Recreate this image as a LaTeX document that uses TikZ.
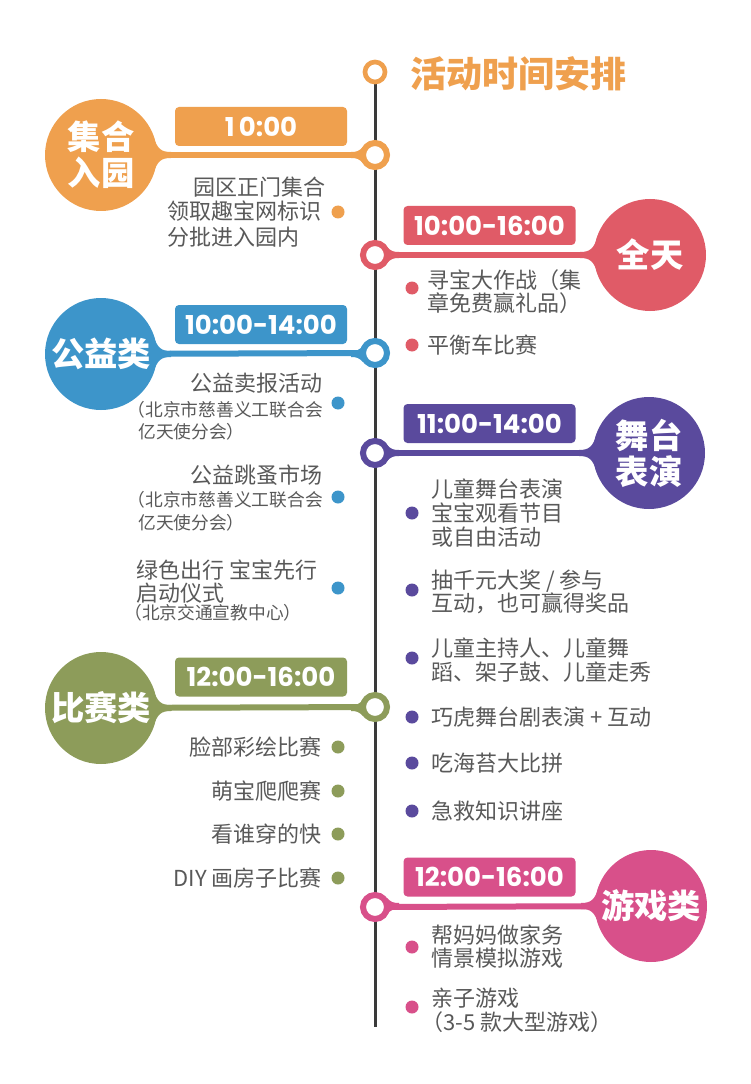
\documentclass[tikz,border=0pt]{standalone}
\usepackage{fontspec}
\setmainfont{Noto Sans CJK SC}
\newfontfamily\timefont{Poppins}
\newfontfamily\blackfont{Noto Sans CJK SC}[UprightFont=* Black]
\usetikzlibrary{backgrounds}
\definecolor{cOra}{HTML}{EFA04E}
\definecolor{cRed}{HTML}{E05B67}
\definecolor{cBlu}{HTML}{3D95CA}
\definecolor{cPur}{HTML}{5A4A9D}
\definecolor{cGrn}{HTML}{8D9C5A}
\definecolor{cPnk}{HTML}{D8508A}
\definecolor{txt}{HTML}{595959}
\definecolor{axis}{HTML}{3A3A3A}
\tikzset{
  bigc/.style={circle, fill=#1, minimum size=84pt, inner sep=0pt, text=white,
    font=\blackfont\fontsize{25}{27}\selectfont, align=center},
  ringn/.style={circle, draw=#1, fill=white, line width=4.5pt, minimum size=18pt, inner sep=0pt},
  tbox/.style={rectangle, rounded corners=3pt, fill=#1, minimum width=129pt, minimum height=29.25pt,
    inner sep=0pt, text=white, font=\timefont\fontsize{19.5}{22}\selectfont\bfseries},
  dotn/.style={circle, fill=#1, minimum size=9.75pt, inner sep=0pt},
  itm/.style={inner sep=0pt, text=txt, font=\fontsize{16.5}{18}\selectfont},
  sml/.style={inner sep=0pt, text=txt, font=\fontsize{13.3}{15}\selectfont},
  conn/.style={draw=#1, line width=4.5pt},
}
\newcommand{\mkfillet}[4]{%
  \fill[#1, shift={(#2,#3)}, xscale=#4] (70,-3) .. controls (60,-3) and (56,-6) .. (52,-20) -- (52,20) .. controls (56,6) and (60,3) .. (70,3) -- cycle;
  \fill[#1, shift={(375,#3)}, xscale=#4] (-24,-3) .. controls (-18,-3) and (-16,-4) .. (-12,-8) -- (-12,8) .. controls (-16,4) and (-18,3) .. (-24,3) -- cycle;
}
\begin{document}
\begin{tikzpicture}[x=0.75pt, y=-0.75pt]
\useasboundingbox (0,0) rectangle (750,1084);

% title
\node[circle, draw=cOra, fill=white, line width=3.5pt, minimum size=15pt, inner sep=0pt] (r0) at (375,72) {};
\node[anchor=base west, inner sep=0pt, text=cOra, font=\blackfont\fontsize{27}{30}\selectfont] (title) at (410,88) {活动时间安排};
\coordinate (bot) at (375,1027);

% ---------- section 1: 集合入园
\node[bigc=cOra] (c1) at (101,155) {集合\\入园};
\node[ringn=cOra] (r1) at (375,155) {};
\node[tbox=cOra] (b1) at (261,126.5) {1\,0:00};
\node[itm, anchor=base east] (t1a) at (326,196) {园区正门集合};
\node[itm, anchor=base west] (t1b) at (167,220) {领取趣宝网标识};
\node[itm, anchor=base west] (t1c) at (167,245) {分批进入园内};
\node[dotn=cOra] (d1) at (338,212) {};

% ---------- section 2: 全天
\node[bigc=cRed] (c2) at (650,255) {全天};
\node[ringn=cRed] (r2) at (375,255) {};
\node[tbox=cRed] (b2) at (489.5,225.5) {10:00-16:00};
\node[itm, anchor=base west] (t2a) at (427,288) {寻宝大作战（集};
\node[itm, anchor=base west] (t2b) at (427,311) {章免费赢礼品）};
\node[dotn=cRed] (d2a) at (412,288) {};
\node[itm, anchor=base west] (t2c) at (427,353) {平衡车比赛};
\node[dotn=cRed] (d2b) at (412,345) {};

% ---------- section 3: 公益类
\node[bigc=cBlu] (c3) at (101,354) {公益类};
\node[ringn=cBlu] (r3) at (375,353) {};
\node[tbox=cBlu] (b3) at (261,324.5) {10:00-14:00};
\node[itm, anchor=base east] (t3a) at (323,391) {公益卖报活动};
\node[sml, anchor=base east] (t3b) at (323,416) {（北京市慈善义工联合会};
\node[sml, anchor=base west] (t3c) at (138,438) {亿天使分会）};
\node[dotn=cBlu] (d3a) at (338,403) {};
\node[itm, anchor=base east] (t3d) at (323,483) {公益跳蚤市场};
\node[sml, anchor=base east] (t3e) at (323,506) {（北京市慈善义工联合会};
\node[sml, anchor=base west] (t3f) at (138,529) {亿天使分会）};
\node[dotn=cBlu] (d3b) at (338,497) {};
\node[itm, anchor=base west] (t3g) at (136,578) {绿色出行 宝宝先行};
\node[itm, anchor=base west] (t3h) at (136,601) {启动仪式};
\node[sml, anchor=base west] (t3i) at (124,619) {（北京交通宣教中心）};
\node[dotn=cBlu] (d3c) at (338,588) {};

% ---------- section 4: 舞台表演
\node[bigc=cPur] (c4) at (649,453) {舞台\\表演};
\node[ringn=cPur] (r4) at (375,453) {};
\node[tbox=cPur] (b4) at (489.5,423.5) {11:00-14:00};
\node[itm, anchor=base west] (t4a) at (431,497) {儿童舞台表演};
\node[itm, anchor=base west] (t4b) at (431,521) {宝宝观看节目};
\node[itm, anchor=base west] (t4c) at (431,545) {或自由活动};
\node[dotn=cPur] (d4a) at (412,513) {};
\node[itm, anchor=base west] (t4d) at (431,588) {抽千元大奖 / 参与};
\node[itm, anchor=base west] (t4e) at (431,611) {互动，也可赢得奖品};
\node[dotn=cPur] (d4b) at (412,590) {};
\node[itm, anchor=base west] (t4f) at (431,656) {儿童主持人、儿童舞};
\node[itm, anchor=base west] (t4g) at (431,680) {蹈、架子鼓、儿童走秀};
\node[dotn=cPur] (d4c) at (412,658) {};
\node[itm, anchor=base west] (t4h) at (431,725) {巧虎舞台剧表演 + 互动};
\node[dotn=cPur] (d4d) at (412,717) {};
\node[itm, anchor=base west] (t4i) at (431,771) {吃海苔大比拼};
\node[dotn=cPur] (d4e) at (412,763) {};
\node[itm, anchor=base west] (t4j) at (431,819) {急救知识讲座};
\node[dotn=cPur] (d4f) at (412,811) {};

% ---------- section 5: 比赛类
\node[bigc=cGrn] (c5) at (101,708) {比赛类};
\node[ringn=cGrn] (r5) at (375,707) {};
\node[tbox=cGrn] (b5) at (261,677) {12:00-16:00};
\node[itm, anchor=base east] (t5a) at (322,755) {脸部彩绘比赛};
\node[dotn=cGrn] (d5a) at (338,747) {};
\node[itm, anchor=base east] (t5b) at (322,799) {萌宝爬爬赛};
\node[dotn=cGrn] (d5b) at (338,791) {};
\node[itm, anchor=base east] (t5c) at (322,842) {看谁穿的快};
\node[dotn=cGrn] (d5c) at (338,834) {};
\node[itm, anchor=base east] (t5d) at (322,886) {DIY 画房子比赛};
\node[dotn=cGrn] (d5d) at (338,878) {};

% ---------- section 6: 游戏类
\node[bigc=cPnk] (c6) at (651,906) {游戏类};
\node[ringn=cPnk] (r6) at (375,907) {};
\node[tbox=cPnk] (b6) at (489.5,877) {12:00-16:00};
\node[itm, anchor=base west] (t6a) at (431,943) {帮妈妈做家务};
\node[itm, anchor=base west] (t6b) at (431,966) {情景模拟游戏};
\node[dotn=cPnk] (d6a) at (412,947) {};
\node[itm, anchor=base west] (t6c) at (431,1006) {亲子游戏};
\node[itm, anchor=base west] (t6d) at (421,1030) {（3-5 款大型游戏）};
\node[dotn=cPnk] (d6b) at (412,1007) {};

\begin{pgfonlayer}{background}
  \fill[white] (0,0) rectangle (750,1084);
  \draw[axis, line width=2.25pt] (r0.center) -- (bot);
  \draw[conn=cOra] (c1) -- (r1);
  \draw[conn=cRed] (c2) -- (r2);
  \draw[conn=cBlu] (c3) -- (r3);
  \draw[conn=cPur] (c4) -- (r4);
  \draw[conn=cGrn] (c5) -- (r5);
  \draw[conn=cPnk] (c6) -- (r6);
  \mkfillet{cOra}{101}{155}{1}
  \mkfillet{cRed}{650}{255}{-1}
  \mkfillet{cBlu}{101}{354}{1}
  \mkfillet{cPur}{649}{453}{-1}
  \mkfillet{cGrn}{101}{708}{1}
  \mkfillet{cPnk}{651}{906}{-1}
\end{pgfonlayer}
\end{tikzpicture}
\end{document}
